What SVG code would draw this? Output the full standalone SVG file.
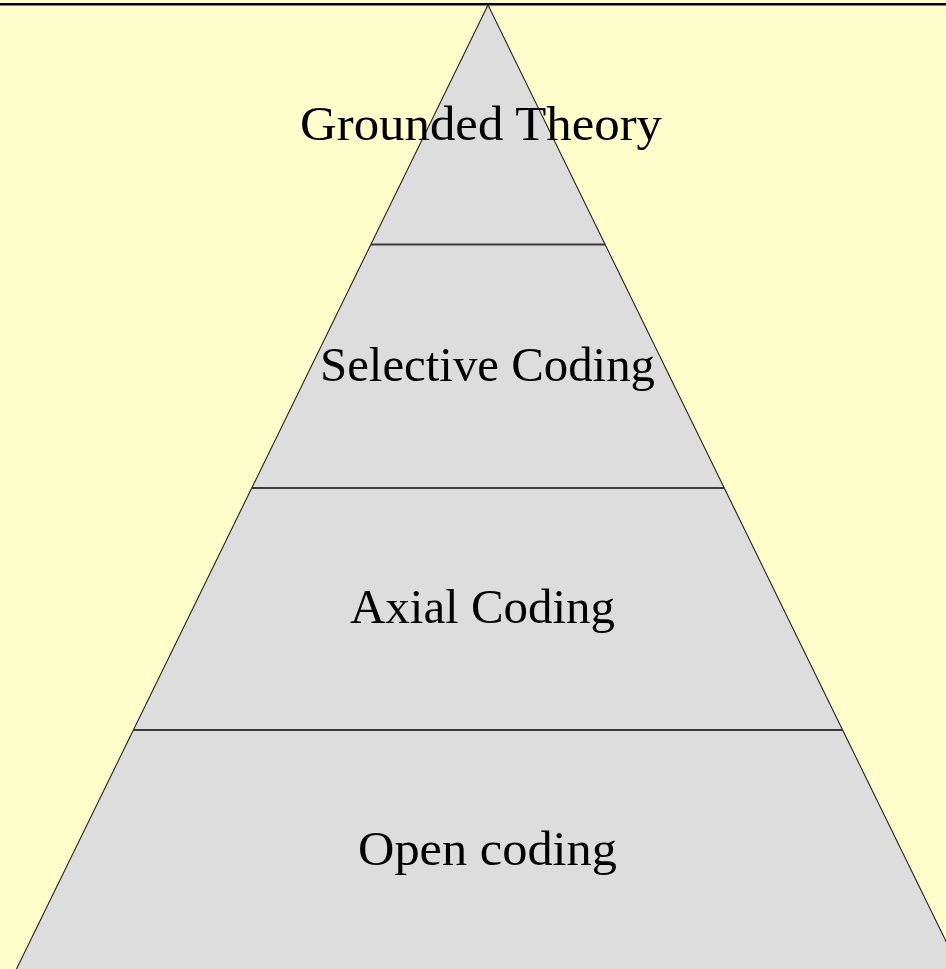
<svg xmlns="http://www.w3.org/2000/svg" width="946" height="969" viewBox="0 0 946 969">
<style>
.lbl{font-family:"Liberation Serif","DejaVu Serif",serif;font-size:48px;fill:#000;text-anchor:middle}
.div{stroke:#3a3a3a;stroke-width:2;fill:none}
</style>
<rect x="0" y="0" width="946" height="969" fill="#FFFFCC"/>
<line x1="0" y1="4.2" x2="946" y2="4.2" stroke="#000" stroke-width="2.4"/>
<g id="pyramid">
<polygon points="488,5 15.5,971 960.5,971" fill="#DDDDDD" stroke="#222" stroke-width="1.1"/>
</g>
<g id="connectors">
<line class="div" x1="370.5" y1="244.5" x2="605.5" y2="244.5"/>
<line class="div" x1="251.5" y1="488" x2="724.5" y2="488"/>
<line class="div" x1="133" y1="730" x2="843" y2="730"/>
</g>
<g id="grounded-theory"><text class="lbl" x="481" y="140" textLength="362" lengthAdjust="spacingAndGlyphs">Grounded Theory</text></g>
<g id="selective-coding"><text class="lbl" x="487.5" y="381" textLength="335" lengthAdjust="spacingAndGlyphs">Selective Coding</text></g>
<g id="axial-coding"><text class="lbl" x="482.5" y="623" textLength="265" lengthAdjust="spacingAndGlyphs">Axial Coding</text></g>
<g id="open-coding"><text class="lbl" x="487.5" y="865" textLength="259" lengthAdjust="spacingAndGlyphs">Open coding</text></g>
</svg>
